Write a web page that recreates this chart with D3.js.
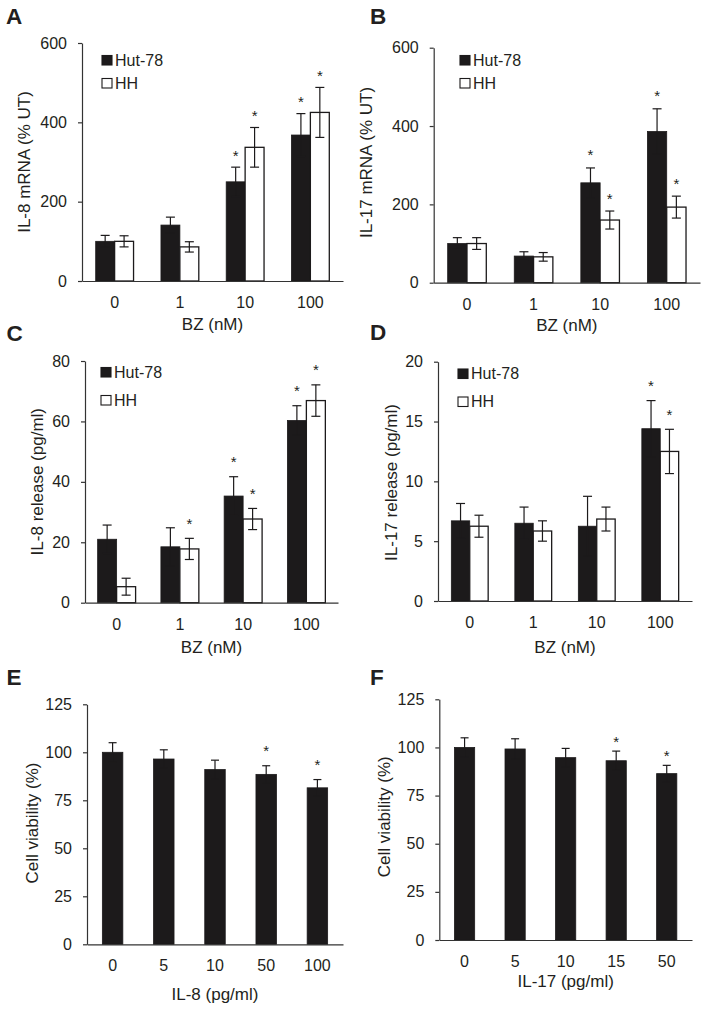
<!DOCTYPE html>
<html><head><meta charset="utf-8">
<script src="https://cdn.jsdelivr.net/npm/d3@7"></script>
<style>
body{margin:0;background:#fff;}
svg text{font-family:"Liberation Sans",Arial,Helvetica,sans-serif;fill:#231f20;}
</style>
</head><body>
<svg id="chart" width="704" height="1009"></svg>
<script>
// ---------------- DATA ----------------
const seriesNames = ["Hut-78", "HH"];
const bzCategories = ["0", "1", "10", "100"];

// Panel A: IL-8 mRNA (% UT)
const aHut = [100, 141, 250, 368];
const aHutErr = [15, 20, 37, 54];
const aHH = [100, 86, 337, 425];
const aHHErr = [14, 13, 50, 63];
const aHutStar = [false, false, true, true];
const aHHStar = [false, false, true, true];
const aTicks = [0, 200, 400, 600];

// Panel B: IL-17 mRNA (% UT)
const bHut = [100, 68, 255, 386];
const bHutErr = [15, 11, 38, 58];
const bHH = [100, 66, 160, 193];
const bHHErr = [15, 11, 23, 28];
const bHutStar = [false, false, true, true];
const bHHStar = [false, false, true, true];
const bTicks = [0, 200, 400, 600];

// Panel C: IL-8 release (pg/ml)
const cHut = [21, 18.5, 35.3, 60.3];
const cHutErr = [4.7, 6.3, 6.4, 4.9];
const cHH = [5.3, 17.8, 27.7, 66.9];
const cHHErr = [2.8, 3.5, 3.5, 5.2];
const cHutStar = [false, false, true, true];
const cHHStar = [false, true, true, true];
const cTicks = [0, 20, 40, 60, 80];

// Panel D: IL-17 release (pg/ml)
const dHut = [6.7, 6.5, 6.25, 14.4];
const dHutErr = [1.45, 1.35, 2.5, 2.35];
const dHH = [6.25, 5.85, 6.85, 12.5];
const dHHErr = [0.92, 0.85, 1.0, 1.85];
const dHutStar = [false, false, false, true];
const dHHStar = [false, false, false, true];
const dTicks = [0, 5, 10, 15, 20];

// Panel E: Cell viability vs IL-8
const eCategories = ["0", "5", "10", "50", "100"];
const eValues = [100, 96.5, 91, 88.5, 81.5];
const eErr = [5, 4.8, 4.9, 4.5, 4.3];
const eStar = [false, false, false, true, true];
const eTicks = [0, 25, 50, 75, 100, 125];

// Panel F: Cell viability vs IL-17
const fCategories = ["0", "5", "10", "15", "50"];
const fValues = [100, 99.2, 94.7, 93.1, 86.4];
const fErr = [5, 5.3, 4.8, 5, 4.3];
const fStar = [false, false, false, true, true];
const fTicks = [0, 25, 50, 75, 100, 125];

// ---------------- DRAWING ----------------
const svg = d3.select("#chart");
const INK = "#1c1a1b";

function drawPanel(cfg) {
  const g = svg.append("g");
  const x = d3.scaleBand().domain(cfg.cats).range([cfg.left, cfg.right]).padding(0);
  const y = d3.scaleLinear().domain([0, cfg.ymax]).range([cfg.bottom, cfg.top]);
  const bw = x.bandwidth() * cfg.barFrac;
  const nS = cfg.series.length;

  // bars
  cfg.series.forEach((s, si) => {
    const offset = x.bandwidth() / 2 - (nS * bw) / 2 + si * bw;
    const data = cfg.cats.map((c, i) => ({c, v: s.values[i], e: s.err[i], star: s.star[i]}));
    g.selectAll(null).data(data).enter().append("rect")
      .attr("x", d => x(d.c) + offset)
      .attr("y", d => y(d.v))
      .attr("width", bw)
      .attr("height", d => y(0) - y(d.v))
      .attr("fill", s.fill)
      .attr("stroke", INK)
      .attr("stroke-width", s.fill === "#fff" ? 1.3 : 0.8);
    // error bars
    const cx = d => x(d.c) + offset + bw / 2;
    const cap = cfg.cap;
    const eg = g.append("g").attr("stroke", INK).attr("stroke-width", 1.2);
    eg.selectAll(null).data(data).enter().append("line")
      .attr("x1", cx).attr("x2", cx)
      .attr("y1", d => y(d.v + d.e)).attr("y2", d => y(d.v - d.e));
    eg.selectAll(null).data(data).enter().append("line")
      .attr("x1", d => cx(d) - cap / 2).attr("x2", d => cx(d) + cap / 2)
      .attr("y1", d => y(d.v + d.e)).attr("y2", d => y(d.v + d.e));
    eg.selectAll(null).data(data).enter().append("line")
      .attr("x1", d => cx(d) - cap / 2).attr("x2", d => cx(d) + cap / 2)
      .attr("y1", d => y(d.v - d.e)).attr("y2", d => y(d.v - d.e));
    // stars
    g.selectAll(null).data(data.filter(d => d.star)).enter().append("text")
      .attr("x", cx)
      .attr("y", d => y(d.v + d.e) - cfg.starGap + 8.5)
      .attr("text-anchor", "middle")
      .style("font-size", "15px")
      .text("*");
  });

  // y axis
  const ya = g.append("g").attr("transform", `translate(${cfg.left},0)`)
    .call(d3.axisLeft(y).tickValues(cfg.ticks).tickSize(4).tickPadding(11).tickSizeOuter(0));
  ya.select(".domain").attr("stroke", "#333").attr("stroke-width", 1.2);
  ya.selectAll(".tick line").attr("stroke", "#333").attr("stroke-width", 1.2);
  ya.selectAll(".tick text").style("font-size", "16px").attr("fill", INK);

  // x axis
  const xa = g.append("g").attr("transform", `translate(0,${cfg.bottom})`)
    .call(d3.axisBottom(x).tickSize(0).tickPadding(15.5).tickSizeOuter(0));
  xa.select(".domain").attr("stroke", "#333").attr("stroke-width", 1.2);
  xa.selectAll(".tick text").style("font-size", "16px").attr("fill", INK);

  // axis titles
  g.append("text")
    .attr("transform", `translate(${cfg.yTitleX},${cfg.yTitleY}) rotate(-90)`)
    .attr("text-anchor", "middle")
    .style("font-size", "17px")
    .text(cfg.yTitle);
  g.append("text")
    .attr("x", (cfg.left + cfg.right) / 2)
    .attr("y", cfg.xTitleY)
    .attr("text-anchor", "middle")
    .style("font-size", "17px")
    .text(cfg.xTitle);

  // panel letter
  g.append("text")
    .attr("x", cfg.letterX).attr("y", cfg.letterY)
    .style("font-size", "22.5px").style("font-weight", "bold")
    .text(cfg.letter);

  // legend
  if (cfg.legend) {
    cfg.series.forEach((s, si) => {
      const ly = cfg.legend.y + si * cfg.legend.dy;
      g.append("rect")
        .attr("x", cfg.legend.x).attr("y", ly - 9.5)
        .attr("width", 10).attr("height", 9.5)
        .attr("fill", s.fill).attr("stroke", INK).attr("stroke-width", 1.1);
      g.append("text")
        .attr("x", cfg.legend.x + 13).attr("y", ly + 0.5)
        .style("font-size", "16px")
        .text(s.name);
    });
  }
}

function pair(hut, hutErr, hutStar, hh, hhErr, hhStar) {
  return [
    {name: seriesNames[0], values: hut, err: hutErr, star: hutStar, fill: INK},
    {name: seriesNames[1], values: hh, err: hhErr, star: hhStar, fill: "#fff"}
  ];
}

drawPanel({letter: "A", letterX: 6, letterY: 24,
  cats: bzCategories, series: pair(aHut, aHutErr, aHutStar, aHH, aHHErr, aHHStar),
  left: 82, right: 343, bottom: 281, top: 43, ymax: 600, ticks: aTicks,
  barFrac: 0.29, cap: 9, starGap: 15,
  yTitle: "IL-8 mRNA (% UT)", yTitleX: 30, yTitleY: 162,
  xTitle: "BZ (nM)", xTitleY: 330,
  legend: {x: 102, y: 65, dy: 23}});

drawPanel({letter: "B", letterX: 370, letterY: 23.5,
  cats: bzCategories, series: pair(bHut, bHutErr, bHutStar, bHH, bHHErr, bHHStar),
  left: 433.7, right: 700, bottom: 282.7, top: 47.7, ymax: 600, ticks: bTicks,
  barFrac: 0.29, cap: 9, starGap: 16,
  yTitle: "IL-17 mRNA (% UT)", yTitleX: 372, yTitleY: 162.5,
  xTitle: "BZ (nM)", xTitleY: 331,
  legend: {x: 460, y: 65, dy: 23}});

drawPanel({letter: "C", letterX: 6.5, letterY: 341,
  cats: bzCategories, series: pair(cHut, cHutErr, cHutStar, cHH, cHHErr, cHHStar),
  left: 85, right: 338, bottom: 602.7, top: 361, ymax: 80, ticks: cTicks,
  barFrac: 0.30, cap: 9, starGap: 18,
  yTitle: "IL-8 release (pg/ml)", yTitleX: 43, yTitleY: 481.7,
  xTitle: "BZ (nM)", xTitleY: 652.5,
  legend: {x: 101, y: 377, dy: 28}});

drawPanel({letter: "D", letterX: 370, letterY: 340,
  cats: bzCategories, series: pair(dHut, dHutErr, dHutStar, dHH, dHHErr, dHHStar),
  left: 438, right: 692, bottom: 601, top: 361.7, ymax: 20, ticks: dTicks,
  barFrac: 0.29, cap: 9, starGap: 18,
  yTitle: "IL-17 release (pg/ml)", yTitleX: 397, yTitleY: 482.5,
  xTitle: "BZ (nM)", xTitleY: 653,
  legend: {x: 458, y: 378.5, dy: 28}});

drawPanel({letter: "E", letterX: 6.5, letterY: 685,
  cats: eCategories,
  series: [{name: "", values: eValues, err: eErr, star: eStar, fill: INK}],
  left: 87, right: 343, bottom: 944.3, top: 704.3, ymax: 125, ticks: eTicks,
  barFrac: 0.40, cap: 8, starGap: 18,
  yTitle: "Cell viability (%)", yTitleX: 38, yTitleY: 823,
  xTitle: "IL-8 (pg/ml)", xTitleY: 1000});

drawPanel({letter: "F", letterX: 370, letterY: 685,
  cats: fCategories,
  series: [{name: "", values: fValues, err: fErr, star: fStar, fill: INK}],
  left: 439.3, right: 692, bottom: 940, top: 699.3, ymax: 125, ticks: fTicks,
  barFrac: 0.40, cap: 8, starGap: 13,
  yTitle: "Cell viability (%)", yTitleX: 390, yTitleY: 816.7,
  xTitle: "IL-17 (pg/ml)", xTitleY: 987});
</script>
</body></html>
